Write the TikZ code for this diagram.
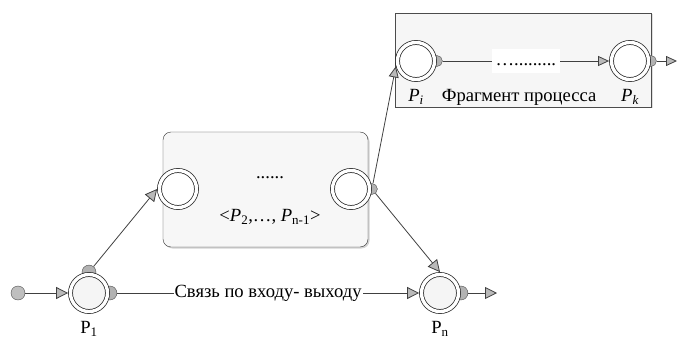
\documentclass[tikz,border=0pt]{standalone}
\usepackage{fontspec}
\setmainfont{Liberation Serif}
\usetikzlibrary{positioning,arrows.meta,shadows}
\pgfdeclarelayer{back}
\pgfdeclarelayer{ports}
\pgfsetlayers{back,ports,main}

\begin{document}
\begin{tikzpicture}[x=1pt, y=1pt, font=\fontsize{18.6}{21}\selectfont,
    line/.style={draw=black!75, line width=0.8pt},
    arr/.style={line, -{Triangle[length=12pt,width=12pt,fill=gray!55]}},
    arrs/.style={line, -{Triangle[length=11pt,width=10pt,fill=gray!55]}},
    place/.style={circle, draw=black!85, line width=0.75pt, double=white, double distance=3.3pt,
        minimum size=37pt, inner sep=0pt, outer sep=2.4pt, fill=#1},
    place/.default=white,
    port/.style={circle, draw=black!70, fill=gray!60, minimum size=#1, inner sep=0pt},
    port/.default=11pt,
    seg/.style={draw=black!80, rounded corners=8pt, fill=gray!6, minimum width=205pt, minimum height=115pt,
        drop shadow={shadow xshift=1.5pt, shadow yshift=-1.5pt, opacity=0.35}},
    frag/.style={draw=gray!60!black, fill=gray!7, minimum width=256pt, minimum height=94pt,
        drop shadow={shadow xshift=1.5pt, shadow yshift=-1.5pt, opacity=0.25}}]
    \useasboundingbox (0,0) rectangle (678,338);

    \begin{pgfonlayer}{back}
    \node[seg] (grp) at (265.5,148.5) {};
    \node[frag] (frg) at (523,278) {};
    \end{pgfonlayer}

    \node[port=14pt, fill=gray!50] (start) at (18,45) {};
    \node[place=gray!8] (p1) at (89,45) {};
    \node[place=gray!8] (pn) at (440,45) {};
    \node[place] (s1) at (178,149) {};
    \node[place] (s2) at (351,149) {};
    \node[place] (pi) at (416,277) {};
    \node[place] (pk) at (630,277) {};
    \coordinate (pnend) at (497,45);
    \coordinate (pkend) at (677,277);

    \begin{pgfonlayer}{ports}
    \node[port=14pt] (p1o) at (p1.east) {};
    \node[port=14pt] (p1t) at (p1.north) {};
    \node[port=14pt] (pno) at (pn.east) {};
    \node[port] (s2o) at (s2.east) {};
    \node[port] (pio) at (pi.east) {};
    \node[port] (pko) at (pk.east) {};
    \end{pgfonlayer}

    \node[below=4pt of p1] (lp1) {P\textsubscript{1}};
    \node[below=4pt of pn] (lpn) {P\textsubscript{n}};
    \node[below=4pt of pi] (lpi) {\textit{P\textsubscript{i}}};
    \node[below=4pt of pk] (lpk) {\textit{P\textsubscript{k}}};
    \node[base right=11pt of lpi] (fcap) {Фрагмент процесса};
    \node (gdots) at (270,160) {......};
    \node (glab) at (270,121) {<\textit{P}\textsubscript{2},…, \textit{P}\textsubscript{n-1}>};

    \draw[arr] (start) -- (p1);
    \draw[arr] (p1o) -- node[fill=white, inner sep=1pt] (link) {Связь по входу- выходу} (pn);
    \draw[arr] (pno) -- (pnend);
    \draw[arr] (p1t) -- (s1.west);
    \draw[arrs] (s2o) -- (pi.195);
    \draw[arr] (s2o) -- (pn.north);
    \draw[arrs] (pio) -- node[fill=white, text height=13pt, text depth=4pt, inner sep=3.5pt] (gap) {….........} (pk);
    \draw[arrs] (pko) -- (pkend);
\end{tikzpicture}
\end{document}
